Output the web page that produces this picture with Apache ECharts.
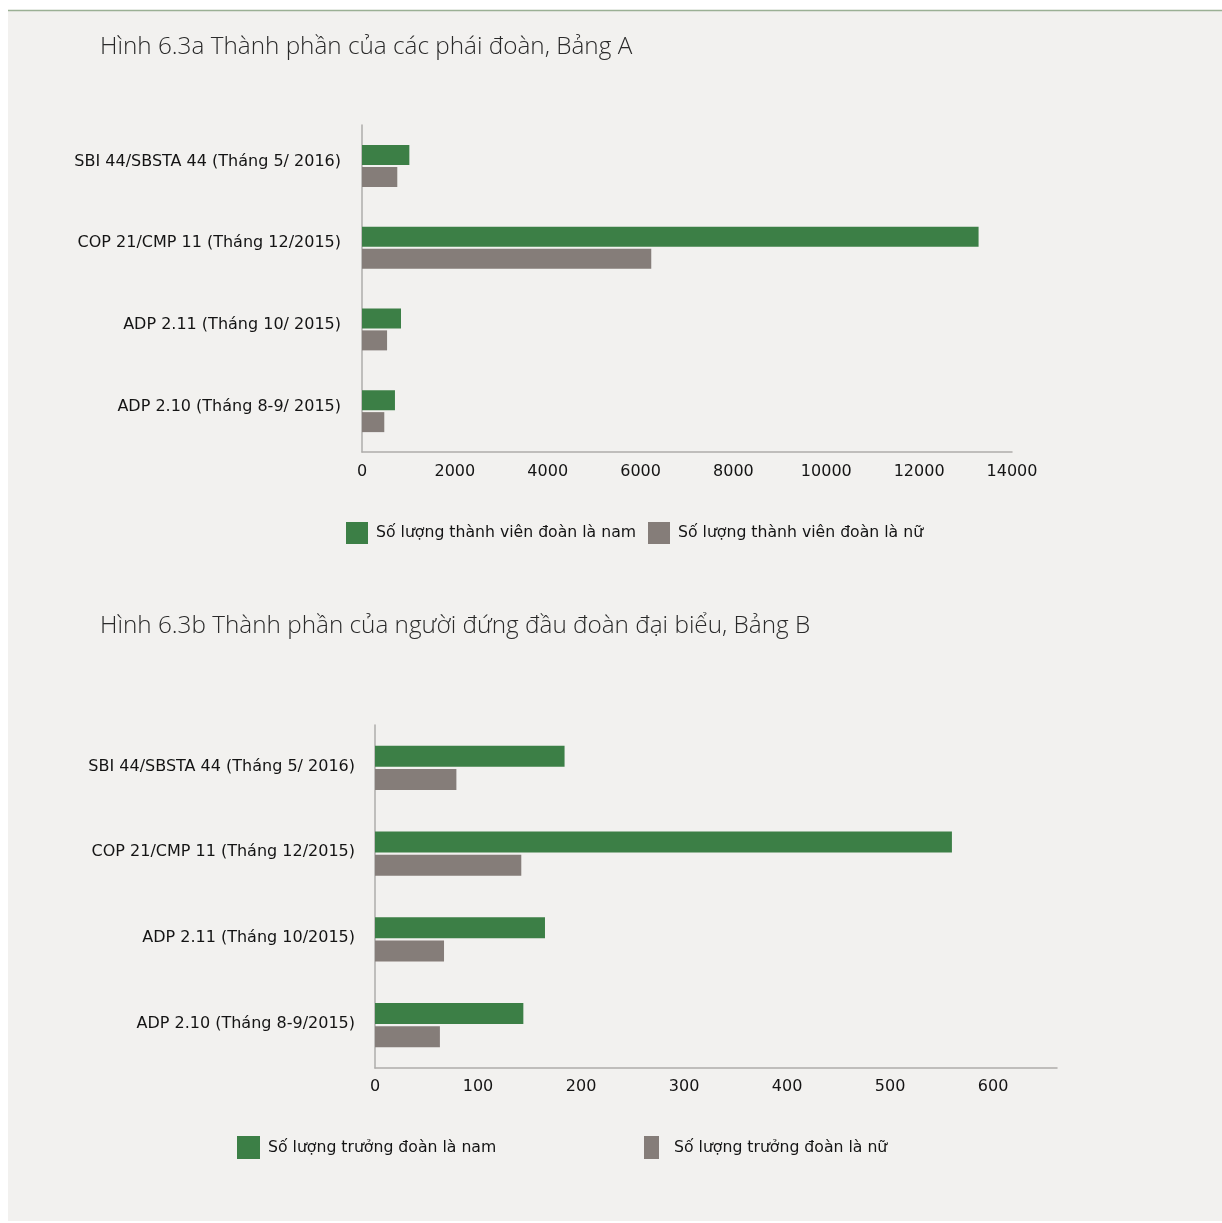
<!DOCTYPE html>
<html>
<head>
<meta charset="utf-8">
<script src="https://cdn.jsdelivr.net/npm/echarts@6/dist/echarts.min.js"></script>
<style>
  html, body { margin: 0; padding: 0; background: #ffffff; }
  #chart { width: 1222px; height: 1223px; }
</style>
</head>
<body>
<div id="chart"></div>
<script>
// Bảng A: thành phần các phái đoàn
const categoriesA = ['SBI 44/SBSTA 44 (Tháng 5/ 2016)', 'COP 21/CMP 11 (Tháng 12/2015)', 'ADP 2.11 (Tháng 10/ 2015)', 'ADP 2.10 (Tháng 8-9/ 2015)'];
const maleA = [1020, 13280, 840, 710];
const femaleA = [760, 6230, 540, 480];
const ticksA = { min: 0, max: 14000, interval: 2000 };

// Bảng B: người đứng đầu đoàn đại biểu
const categoriesB = ['SBI 44/SBSTA 44 (Tháng 5/ 2016)', 'COP 21/CMP 11 (Tháng 12/2015)', 'ADP 2.11 (Tháng 10/2015)', 'ADP 2.10 (Tháng 8-9/2015)'];
const maleB = [184, 560, 165, 144];
const femaleB = [79, 142, 67, 63];
const ticksB = { min: 0, max: 662, interval: 100 };

const titleA = 'Hình 6.3a Thành phần của các phái đoàn, Bảng A';
const titleB = 'Hình 6.3b Thành phần của người đứng đầu đoàn đại biểu, Bảng B';
const legendA = ['Số lượng thành viên đoàn là nam', 'Số lượng thành viên đoàn là nữ'];
const legendB = ['Số lượng trưởng đoàn là nam', 'Số lượng trưởng đoàn là nữ'];

const GREEN = '#3c7f46';
const GRAY = '#857d79';
const AXIS = '#aeacab';
const TEXT = '#141414';
const LABEL_FONT = "'DejaVu Sans', 'Noto Sans', sans-serif";
const TITLE_FONT = "'Open Sans', 'Noto Sans', sans-serif";

const chart = echarts.init(document.getElementById('chart'), null, { renderer: 'canvas' });

const labelStyle = { color: TEXT, fontFamily: LABEL_FONT, fontSize: 16, fontWeight: 'normal' };
const legendText = { color: TEXT, fontFamily: LABEL_FONT, fontSize: 15.7, fontWeight: 'normal' };
const plainNumber = v => String(v);

function legendItem(name, left, top, w, h, gap) {
  return {
    data: [name], left: left, top: top, orient: 'horizontal',
    itemWidth: w, itemHeight: h, icon: 'rect', padding: 0,
    selectedMode: false,
    textStyle: Object.assign({}, legendText, { padding: [0, 0, 0, gap] })
  };
}

const option = {
  backgroundColor: '#ffffff',
  animation: false,
  graphic: [
    { type: 'rect', z: -10, shape: { x: 8, y: 11, width: 1214, height: 1210 }, style: { fill: '#f2f1ef' } },
    { type: 'line', z: -5, shape: { x1: 8, y1: 10.5, x2: 1222, y2: 10.5 }, style: { stroke: '#9bb095', lineWidth: 1.5 } },
    { type: 'text', style: { x: 100, y: 47.5, text: titleA, font: '300 24.3px ' + TITLE_FONT, fill: '#2a2a2a', verticalAlign: 'middle' } },
    { type: 'text', style: { x: 100, y: 626.5, text: titleB, font: '300 24.3px ' + TITLE_FONT, fill: '#2a2a2a', verticalAlign: 'middle' } }
  ],
  legend: [
    legendItem(legendA[0], 346, 522, 22, 22, 3),
    legendItem(legendA[1], 648, 522, 22, 22, 3),
    legendItem(legendB[0], 237, 1136, 23, 23, 3),
    legendItem(legendB[1], 644, 1136, 15, 23, 10)
  ],
  grid: [
    { left: 362, top: 125, width: 650, height: 327, containLabel: false },
    { left: 375, top: 725, width: 682, height: 343, containLabel: false }
  ],
  xAxis: [
    {
      gridIndex: 0, type: 'value', min: ticksA.min, max: ticksA.max, interval: ticksA.interval,
      axisLine: { show: true, lineStyle: { color: AXIS, width: 1.5 } },
      axisTick: { show: false }, splitLine: { show: false },
      axisLabel: Object.assign({ margin: 12, formatter: plainNumber }, labelStyle)
    },
    {
      gridIndex: 1, type: 'value', min: ticksB.min, max: ticksB.max, interval: ticksB.interval,
      axisLine: { show: true, lineStyle: { color: AXIS, width: 1.5 } },
      axisTick: { show: false }, splitLine: { show: false },
      axisLabel: Object.assign({ margin: 11, showMaxLabel: false, formatter: plainNumber }, labelStyle)
    }
  ],
  yAxis: [
    {
      gridIndex: 0, type: 'category', data: categoriesA, inverse: true,
      axisLine: { show: true, lineStyle: { color: AXIS, width: 1.5 } },
      axisTick: { show: false },
      axisLabel: Object.assign({}, labelStyle, { margin: 21, verticalAlign: 'bottom', lineHeight: 9 })
    },
    {
      gridIndex: 1, type: 'category', data: categoriesB, inverse: true,
      axisLine: { show: true, lineStyle: { color: AXIS, width: 1.5 } },
      axisTick: { show: false },
      axisLabel: Object.assign({}, labelStyle, { margin: 20, verticalAlign: 'bottom', lineHeight: 3 })
    }
  ],
  series: [
    { name: legendA[0], type: 'bar', xAxisIndex: 0, yAxisIndex: 0, data: maleA, barWidth: 20, barGap: '10%', itemStyle: { color: GREEN } },
    { name: legendA[1], type: 'bar', xAxisIndex: 0, yAxisIndex: 0, data: femaleA, barWidth: 20, barGap: '10%', itemStyle: { color: GRAY } },
    { name: legendB[0], type: 'bar', xAxisIndex: 1, yAxisIndex: 1, data: maleB, barWidth: 21, barGap: '10%', itemStyle: { color: GREEN } },
    { name: legendB[1], type: 'bar', xAxisIndex: 1, yAxisIndex: 1, data: femaleB, barWidth: 21, barGap: '10%', itemStyle: { color: GRAY } }
  ]
};

chart.setOption(option);
</script>
</body>
</html>
